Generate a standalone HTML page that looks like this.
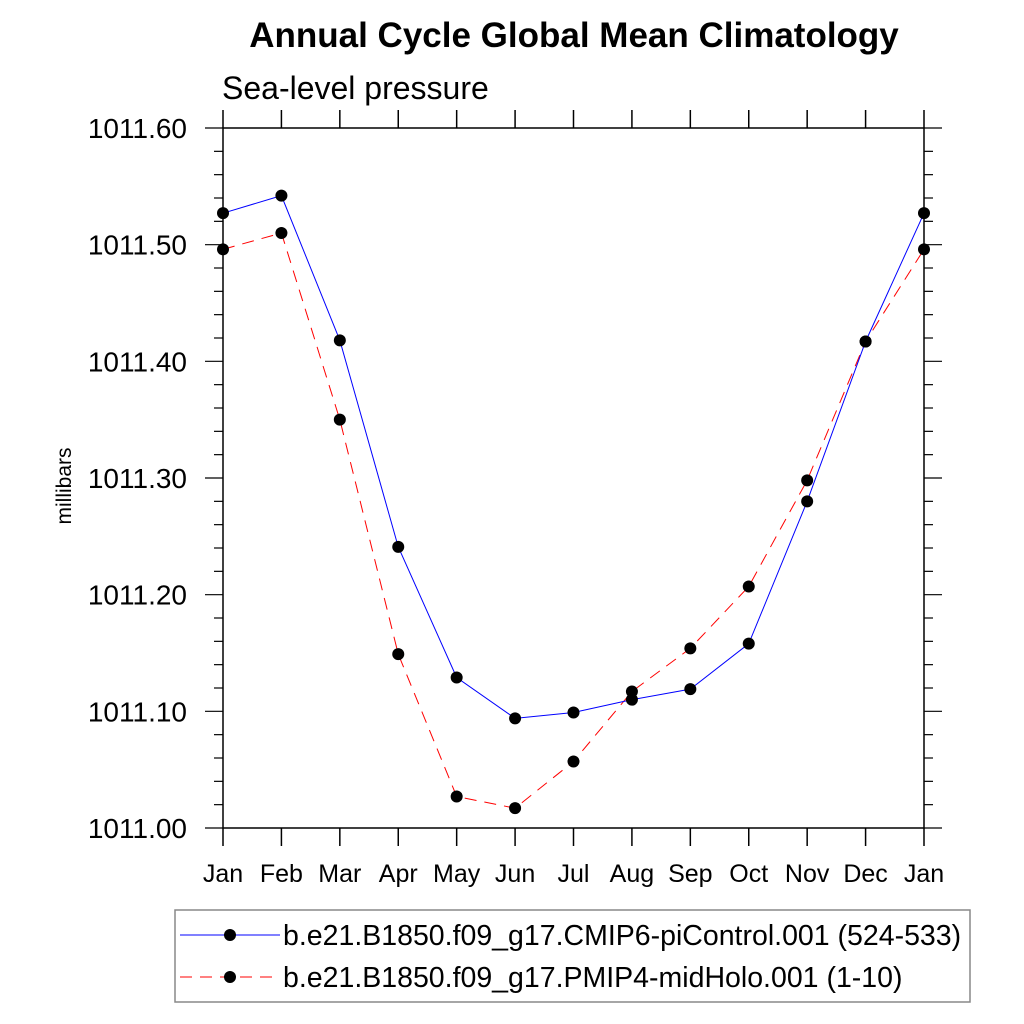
<!DOCTYPE html>
<html><head><meta charset="utf-8"><style>
body{margin:0;background:#fff}
svg{display:block;font-family:"Liberation Sans",sans-serif}
</style></head><body>
<svg id="chart" width="1024" height="1024">
<text x="574" y="47" text-anchor="middle" font-size="35" font-weight="bold">Annual Cycle Global Mean Climatology</text>
<text x="222" y="99" font-size="32">Sea-level pressure</text>
<text transform="translate(71,486) rotate(-90)" text-anchor="middle" font-size="21">millibars</text>
<g id="axes"></g>
<g id="series"></g>
<rect x="175" y="910" width="795" height="92" fill="none" stroke="#888" stroke-width="1.5"/>
<g>
<line x1="180" y1="935" x2="280" y2="935" stroke="#00f" stroke-width="1"/>
<circle cx="230" cy="935" r="6" fill="#000"/>
<text x="283" y="945" font-size="28.5">b.e21.B1850.f09_g17.CMIP6-piControl.001 (524-533)</text>
</g>
<g>
<line x1="180" y1="977" x2="280" y2="977" stroke="#f00" stroke-width="1" stroke-dasharray="12,8"/>
<circle cx="230" cy="977" r="6" fill="#000"/>
<text x="283" y="987" font-size="28.5">b.e21.B1850.f09_g17.PMIP4-midHolo.001 (1-10)</text>
</g>
</svg>
<script>
const months=["Jan","Feb","Mar","Apr","May","Jun","Jul","Aug","Sep","Oct","Nov","Dec","Jan"];
const yTicks=[1011.0,1011.1,1011.2,1011.3,1011.4,1011.5,1011.6];
const yTickLabels=["1011.00","1011.10","1011.20","1011.30","1011.40","1011.50","1011.60"];
const piControl=[1011.527,1011.542,1011.418,1011.241,1011.129,1011.094,1011.099,1011.110,1011.119,1011.158,1011.280,1011.417,1011.527];
const midHolo=[1011.496,1011.510,1011.350,1011.149,1011.027,1011.017,1011.057,1011.117,1011.154,1011.207,1011.298,1011.417,1011.496];
const NS="http://www.w3.org/2000/svg";
const L=223,R=924,T=128,B=828,ymin=1011.0,ymax=1011.6;
const xs=i=>L+(R-L)*i/(months.length-1);
const ys=v=>B-(v-ymin)/(ymax-ymin)*(B-T);
function mk(tag,attrs,parent){const e=document.createElementNS(NS,tag);for(const k in attrs)e.setAttribute(k,attrs[k]);parent.appendChild(e);return e;}
const ax=document.getElementById('axes');
const frame=mk('rect',{x:L,y:T,width:R-L,height:B-T,fill:'none',stroke:'#000','stroke-width':1.5},ax);


months.forEach((m,i)=>{
  const x=xs(i);
  mk('line',{x1:x,y1:B,x2:x,y2:B+18,stroke:'#000','stroke-width':1.5},ax);
  mk('line',{x1:x,y1:T,x2:x,y2:T-18,stroke:'#000','stroke-width':1.5},ax);
  const t=mk('text',{x:x,y:B+54,'text-anchor':'middle','font-size':25},ax);
  t.textContent=m;
  
  
});
for(let k=0;k<=30;k++){
  const v=ymin+k*0.02,y=ys(v);
  const major=k%5===0,len=major?18:9;
  mk('line',{x1:L,y1:y,x2:L-len,y2:y,stroke:'#000','stroke-width':1.2},ax);
  mk('line',{x1:R,y1:y,x2:R+len,y2:y,stroke:'#000','stroke-width':1.2},ax);
}
yTicks.forEach((v,i)=>{
  const t=mk('text',{x:187,y:ys(v)+10,'text-anchor':'end','font-size':28},ax);
  t.textContent=yTickLabels[i];
  
  
});
const sg=document.getElementById('series');
function draw(data,color,dash,name){
  const g=mk('g',{},sg);
  
  
  const p=mk('polyline',{points:data.map((v,i)=>xs(i)+','+ys(v)).join(' '),fill:'none',stroke:color,'stroke-width':1,'stroke-dasharray':dash},g);
  
  
  data.forEach((v,i)=>{
    const c=mk('circle',{cx:xs(i),cy:ys(v),r:6,fill:'#000'},g);
    
    
  });
}
draw(midHolo,'#f00','12,8','midholo-series');
draw(piControl,'#00f','none','picontrol-series');
</script>
</body></html>
